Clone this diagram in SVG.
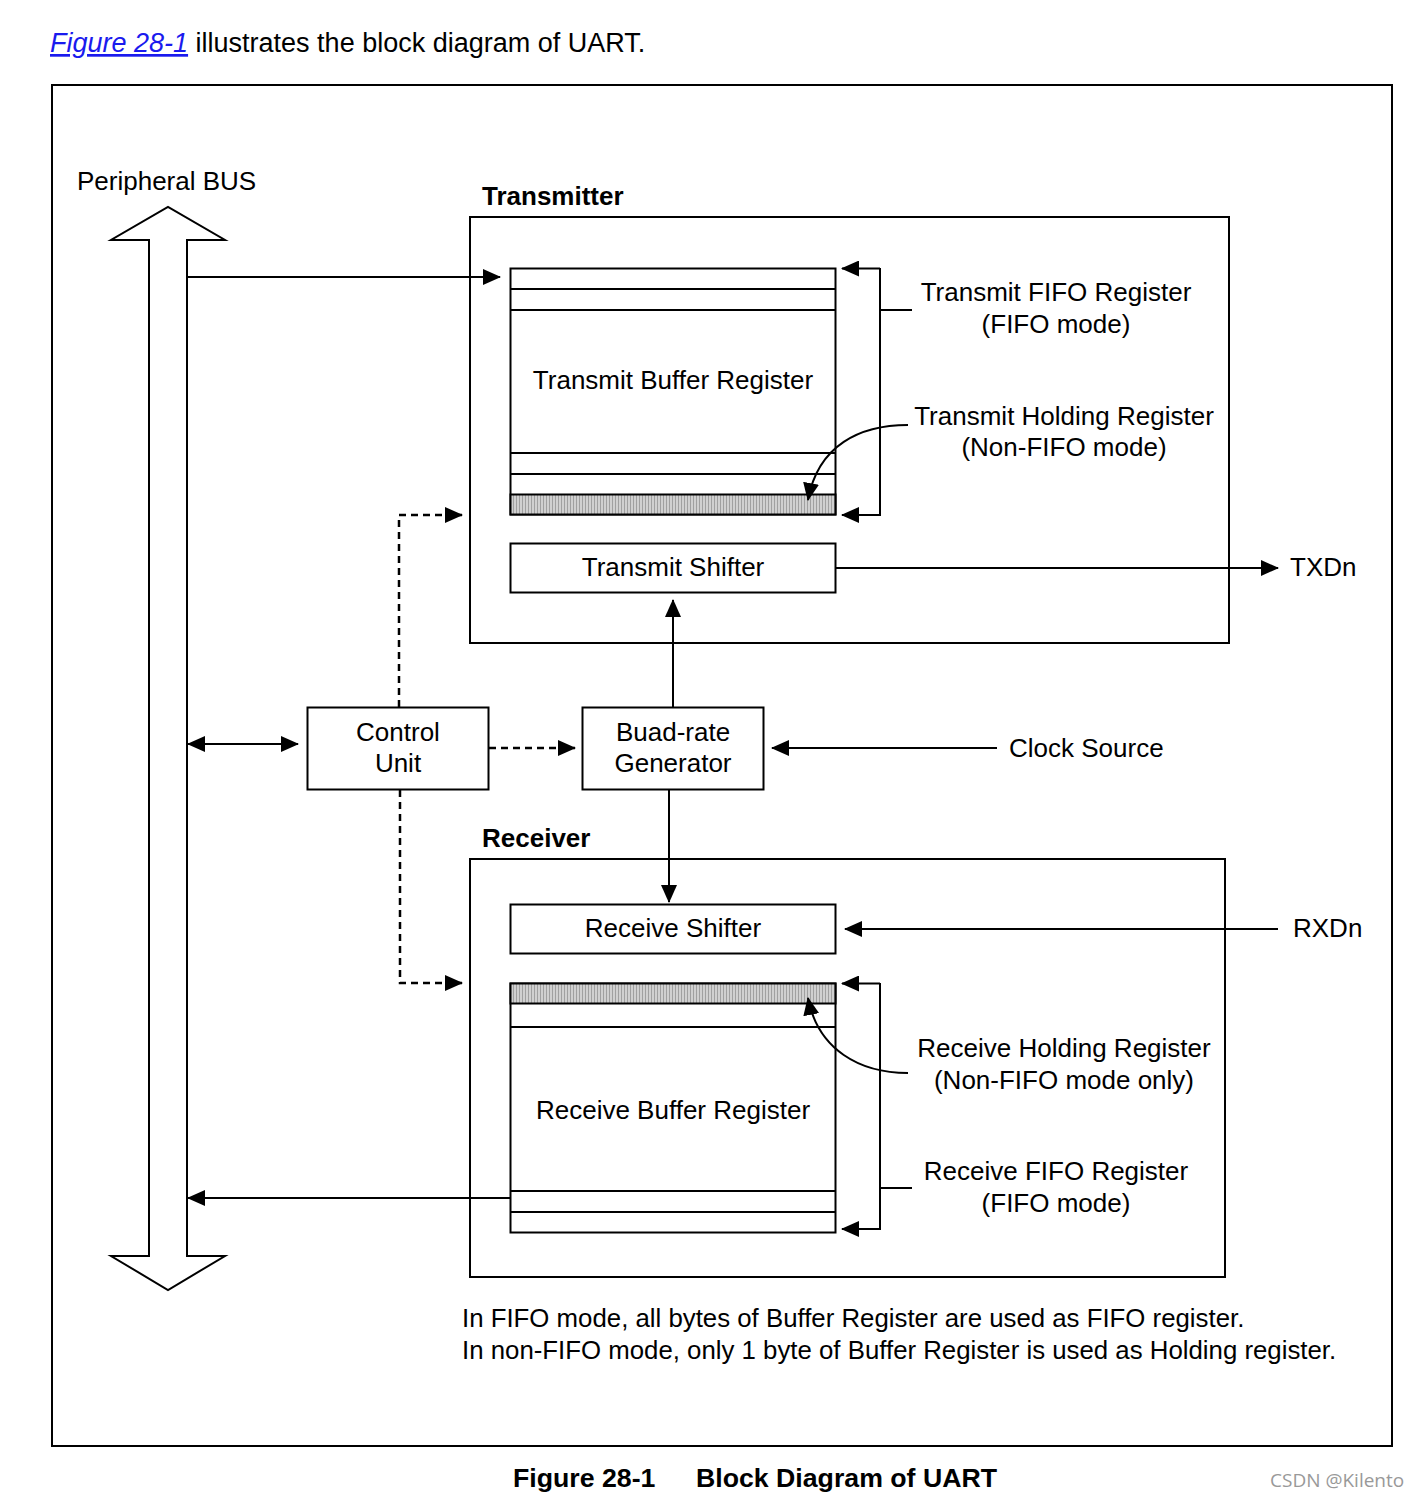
<svg xmlns="http://www.w3.org/2000/svg" width="1420" height="1497" viewBox="0 0 1420 1497">
<style>
text{font-family:"Liberation Sans",Arial,sans-serif;font-size:26px;fill:#000}
.c{text-anchor:middle}
.b{font-weight:bold}
.box{fill:#fff;stroke:#000;stroke-width:2}
.ln{fill:none;stroke:#000;stroke-width:2}
.dash{fill:none;stroke:#000;stroke-width:2.5;stroke-dasharray:7,5}
</style>
<defs>
<marker id="ah" viewBox="0 0 18 16" refX="17" refY="8" markerWidth="18" markerHeight="16" markerUnits="userSpaceOnUse" orient="auto-start-reverse">
<path d="M0,0 L18,8 L0,16 Z" fill="#000"/>
</marker>
<pattern id="hatch" width="3" height="4" patternUnits="userSpaceOnUse">
<rect width="3" height="4" fill="#d0d0d0"/>
<rect width="1" height="4" fill="#a0a0a0"/>
</pattern>
</defs>
<rect width="1420" height="1497" fill="#fff"/>

<text x="50" y="52" style="font-size:27px"><tspan font-style="italic" text-decoration="underline" style="fill:#1a1aee">Figure 28-1</tspan> illustrates the block diagram of UART.</text>

<rect x="52" y="85" width="1340" height="1361" class="ln"/>

<g id="bus">
<path class="ln" d="M149,240 L111,240 L168,207 L225,240 L187,240 L187,1256 L225,1256 L168,1290 L111,1256 L149,1256 Z" fill="#fff"/>
<text x="77" y="190">Peripheral BUS</text>
</g>

<g id="transmitter">
<rect x="470" y="217" width="759" height="426" class="box"/>
<text x="482" y="205" class="b">Transmitter</text>
</g>

<g id="transmit-buffer">
<rect x="510.5" y="268.5" width="325" height="246" class="box"/>
<rect x="510.5" y="494.5" width="325" height="20" fill="url(#hatch)" stroke="#000" stroke-width="2"/>
<path class="ln" d="M510,289 H836 M510,310 H836 M510,453 H836 M510,474 H836"/>
<text x="673" y="389" class="c">Transmit Buffer Register</text>
</g>

<g id="transmit-fifo-label">
<text x="1056" y="301" class="c">Transmit FIFO Register</text>
<text x="1056" y="333" class="c">(FIFO mode)</text>
</g>
<g id="transmit-holding-label">
<text x="1064" y="425" class="c">Transmit Holding Register</text>
<text x="1064" y="456" class="c">(Non-FIFO mode)</text>
</g>

<g id="transmit-shifter">
<rect x="510.5" y="543.5" width="325" height="49" class="box"/>
<text x="673" y="576" class="c">Transmit Shifter</text>
</g>
<text x="1290" y="576">TXDn</text>

<g id="control-unit">
<rect x="307.5" y="707.5" width="181" height="82" class="box"/>
<text x="398" y="741" class="c">Control</text>
<text x="398" y="772" class="c">Unit</text>
</g>

<g id="baud-rate">
<rect x="582.5" y="707.5" width="181" height="82" class="box"/>
<text x="673" y="741" class="c">Buad-rate</text>
<text x="673" y="772" class="c">Generator</text>
</g>
<text x="1009" y="757">Clock Source</text>

<g id="receiver">
<rect x="470" y="859" width="755" height="418" class="box"/>
<text x="482" y="847" class="b">Receiver</text>
</g>

<g id="receive-shifter">
<rect x="510.5" y="904.5" width="325" height="49" class="box"/>
<text x="673" y="937" class="c">Receive Shifter</text>
</g>
<text x="1293" y="937">RXDn</text>

<g id="receive-buffer">
<rect x="510.5" y="983.5" width="325" height="249" class="box"/>
<rect x="510.5" y="983.5" width="325" height="20" fill="url(#hatch)" stroke="#000" stroke-width="2"/>
<path class="ln" d="M510,1027 H836 M510,1191 H836 M510,1212 H836"/>
<text x="673" y="1119" class="c">Receive Buffer Register</text>
</g>

<g id="receive-holding-label">
<text x="1064" y="1057" class="c">Receive Holding Register</text>
<text x="1064" y="1089" class="c">(Non-FIFO mode only)</text>
</g>
<g id="receive-fifo-label">
<text x="1056" y="1180" class="c">Receive FIFO Register</text>
<text x="1056" y="1212" class="c">(FIFO mode)</text>
</g>

<g id="connectors">
<path class="ln" d="M187,277 H500" marker-end="url(#ah)"/>
<path class="ln" d="M880,268.5 H842" marker-end="url(#ah)"/>
<path class="ln" d="M880,268 V515 H842" marker-end="url(#ah)"/>
<path class="ln" d="M880,310 H912"/>
<path class="ln" d="M908,425 C860,425 818,445 808,500" marker-end="url(#ah)"/>
<path class="ln" d="M836,568 H1278" marker-end="url(#ah)"/>
<path class="ln" d="M673,707 V600" marker-end="url(#ah)"/>
<path class="ln" d="M188,744 H298" marker-start="url(#ah)" marker-end="url(#ah)"/>
<path class="dash" d="M489,748 H575" marker-end="url(#ah)"/>
<path class="ln" d="M997,748 H772" marker-end="url(#ah)"/>
<path class="dash" d="M399,707 V515 H462" marker-end="url(#ah)"/>
<path class="dash" d="M400,790 V983 H462" marker-end="url(#ah)"/>
<path class="ln" d="M669,790 V902" marker-end="url(#ah)"/>
<path class="ln" d="M1278,929 H845" marker-end="url(#ah)"/>
<path class="ln" d="M880,983.5 H842" marker-end="url(#ah)"/>
<path class="ln" d="M880,983 V1229 H842" marker-end="url(#ah)"/>
<path class="ln" d="M880,1188 H912"/>
<path class="ln" d="M908,1073 C860,1073 818,1050 808,998" marker-end="url(#ah)"/>
<path class="ln" d="M510,1198 H188" marker-end="url(#ah)"/>
</g>

<text x="462" y="1327" style="font-size:25.8px">In FIFO mode, all bytes of Buffer Register are used as FIFO register.</text>
<text x="462" y="1359" style="font-size:25.8px">In non-FIFO mode, only 1 byte of Buffer Register is used as Holding register.</text>

<text x="513" y="1487" class="b" style="font-size:26.7px">Figure 28-1</text>
<text x="696" y="1487" class="b" style="font-size:26.7px">Block Diagram of UART</text>
<text x="1270" y="1487" style="font-size:19px;fill:#999;font-family:'Open Sans','DejaVu Sans',sans-serif">CSDN @Kilento</text>
</svg>
